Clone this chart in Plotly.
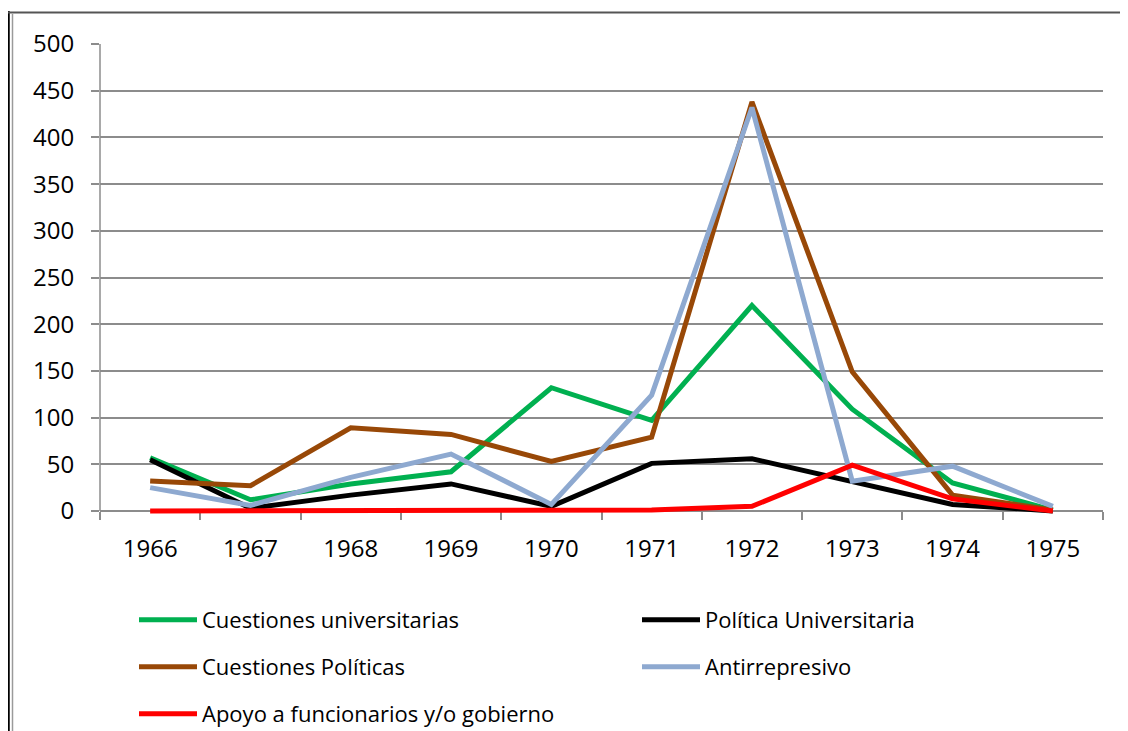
import plotly.graph_objects as go

years = ["1966", "1967", "1968", "1969", "1970", "1971", "1972", "1973", "1974", "1975"]
cuestiones_universitarias = [57, 12, 29, 42, 132, 97, 220, 109, 30, 1]
politica_universitaria = [55, 3, 17, 29, 5, 51, 56, 31, 7, 0]
cuestiones_politicas = [32, 27, 89, 82, 53, 79, 438, 149, 17, 1]
antirrepresivo = [25, 6, 36, 61, 7, 124, 432, 32, 48, 5]
apoyo_gobierno = [0, 0, 0, 0, 0, 1, 5, 49, 13, 0]

series = [
    ("Cuestiones universitarias", cuestiones_universitarias, "#00B050", "legend"),
    ("Política Universitaria", politica_universitaria, "#000000", "legend"),
    ("Cuestiones Políticas", cuestiones_politicas, "#984807", "legend2"),
    ("Antirrepresivo", antirrepresivo, "#8EA9D0", "legend2"),
    ("Apoyo a funcionarios y/o gobierno", apoyo_gobierno, "#FF0000", "legend3"),
]

# page has an 8px body margin; figure sized so that it fits the 1128x731 window
OFF = 8
W, H = 1120, 723
PAD = 4  # extra px below zero so zero-valued lines are not clipped
L, R, T, B = 92, 25, 36, 220 - PAD
pw, ph = W - L - R, H - T - B
scale = (ph - PAD) / 500.0
ymin = -PAD / scale

fig = go.Figure()
for name, vals, color, lg in series:
    fig.add_trace(go.Scatter(
        x=years, y=vals, name=name, mode="lines",
        line=dict(color=color, width=5),
        legend=lg, cliponaxis=False,
    ))

font_family = "Open Sans, Noto Sans, sans-serif"

def px_x(page_px):
    return (page_px - OFF - L) / pw

def px_y(page_py):
    return 1 - (page_py - OFF - T) / ph

legend_common = dict(
    orientation="h", xanchor="left", yanchor="middle",
    entrywidth=430, entrywidthmode="pixels",
    font=dict(family=font_family, size=22, color="#000000"),
    bgcolor="rgba(0,0,0,0)", itemwidth=58,
    traceorder="normal",
)

fig.update_layout(
    width=W, height=H,
    margin=dict(l=L, r=R, t=T, b=B, autoexpand=False),
    paper_bgcolor="white", plot_bgcolor="white",
    font=dict(family=font_family, size=24, color="#000000"),
    xaxis=dict(
        type="category", showgrid=False,
        anchor="free", position=PAD / ph,
        showline=True, linecolor="#8C8C8C", linewidth=1.5,
        ticks="outside", tickson="boundaries", ticklen=8, tickcolor="#8C8C8C", tickwidth=1.5,
        ticklabelstandoff=16, layer="below traces",
        tickfont=dict(family=font_family, size=24, color="#000000"),
        range=[-0.5, 9.5],
    ),
    yaxis=dict(
        range=[ymin, 500], tickmode="array",
        tickvals=[0, 50, 100, 150, 200, 250, 300, 350, 400, 450, 500],
        showgrid=True, gridcolor="#8C8C8C", gridwidth=1.5,
        showline=False,
        ticks="outside", ticklen=8, tickcolor="#8C8C8C", tickwidth=1.5,
        ticklabelstandoff=12, layer="below traces",
        zeroline=False,
        tickfont=dict(family=font_family, size=24, color="#000000"),
    ),
    legend=dict(x=px_x(134), y=px_y(620), **legend_common),
    legend2=dict(x=px_x(134), y=px_y(667), **legend_common),
    legend3=dict(x=px_x(134), y=px_y(714), **legend_common),
    shapes=[
        # vertical y-axis line from 0 to 500
        dict(type="line", xref="paper", yref="y", layer="below",
             x0=0, x1=0, y0=0, y1=500,
             line=dict(color="#8C8C8C", width=1.5)),
        dict(type="line", xref="paper", yref="paper",
             x0=px_x(8.5), x1=px_x(8.5), y0=px_y(11), y1=px_y(740),
             line=dict(color="#000000", width=2.5)),
        dict(type="line", xref="paper", yref="paper",
             x0=px_x(12.5), x1=px_x(12.5), y0=px_y(14), y1=px_y(740),
             line=dict(color="#9A9A9A", width=1.5)),
        dict(type="line", xref="paper", yref="paper",
             x0=px_x(7), x1=px_x(1140), y0=px_y(12.5), y1=px_y(12.5),
             line=dict(color="#555555", width=2)),
    ],
)

fig.write_html("out.html")
